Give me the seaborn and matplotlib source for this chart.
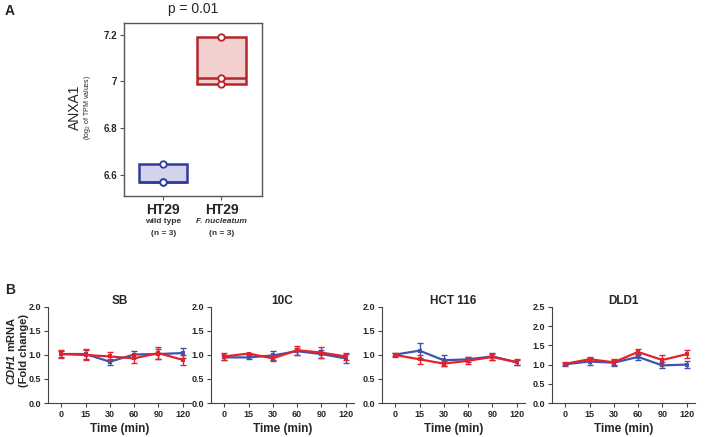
import matplotlib
matplotlib.use("Agg")
import matplotlib.pyplot as plt
import matplotlib.transforms as mtransforms
import numpy as np
import pandas as pd
import seaborn as sns

# ---- Panel A data ----
groups_a = ["HT29 wild type", "HT29 F. nucleatum"]
anxa1_wt = [6.57, 6.57, 6.645]
anxa1_fn = [6.99, 7.015, 7.19]
p_text = "p = 0.01"

# ---- Panel B data ----
time_labels = ["0", "15", "30", "60", "90", "120"]
cell_lines = ["SB", "10C", "HCT 116", "DLD1"]

sb_blue = [1.02, 1.02, 0.86, 1.01, 1.02, 1.04]
sb_blue_err = [0.06, 0.10, 0.06, 0.08, 0.10, 0.10]
sb_red = [1.02, 1.00, 0.97, 0.93, 1.04, 0.90]
sb_red_err = [0.08, 0.10, 0.09, 0.09, 0.13, 0.10]

c10_blue = [0.95, 0.95, 0.99, 1.08, 1.02, 0.93]
c10_blue_err = [0.06, 0.04, 0.09, 0.07, 0.08, 0.10]
c10_red = [0.97, 1.03, 0.93, 1.10, 1.05, 0.97]
c10_red_err = [0.08, 0.02, 0.06, 0.09, 0.12, 0.08]

hct_blue = [1.01, 1.09, 0.89, 0.91, 0.97, 0.85]
hct_blue_err = [0.04, 0.15, 0.12, 0.05, 0.07, 0.05]
hct_red = [1.00, 0.91, 0.82, 0.88, 0.96, 0.85]
hct_red_err = [0.04, 0.09, 0.05, 0.07, 0.07, 0.06]

dld_blue = [1.01, 1.08, 1.05, 1.20, 0.98, 1.00]
dld_blue_err = [0.04, 0.10, 0.08, 0.07, 0.08, 0.10]
dld_red = [1.02, 1.14, 1.06, 1.33, 1.12, 1.27]
dld_red_err = [0.04, 0.05, 0.08, 0.08, 0.12, 0.10]

y_max = [2.0, 2.0, 2.0, 2.5]

BLUE_A, BLUE_A_FILL = "#2f3b9e", "#d3d3ec"
RED_A, RED_A_FILL = "#b3262a", "#f4cfcf"
BLUE_B, RED_B = "#3d55b0", "#e42229"


def draw_panel_a(fig):
    ax = fig.add_axes([0.175, 0.5515, 0.195, 0.396])
    for i, (vals, col, fill) in enumerate(
        [(anxa1_wt, BLUE_A, BLUE_A_FILL), (anxa1_fn, RED_A, RED_A_FILL)]
    ):
        lo, hi, med = min(vals), max(vals), float(np.median(vals))
        ax.bar(i, hi - lo, bottom=lo, width=0.83, color=fill,
               edgecolor=col, linewidth=1.8, zorder=2)
        ax.hlines(med, i - 0.415, i + 0.415, color=col, linewidth=1.8, zorder=3)
        sns.scatterplot(x=[i] * len(vals), y=vals, ax=ax, color="white",
                        edgecolor=col, linewidth=1.3, s=22, zorder=4,
                        legend=False)

    ax.set_xlim(-0.67, 1.7)
    ax.set_ylim(6.51, 7.25)
    ax.set_yticks([6.6, 6.8, 7.0, 7.2])
    ax.set_yticklabels(["6.6", "6.8", "7", "7.2"], fontsize=7, fontweight="bold")
    ax.set_xticks([0, 1])
    ax.set_xticklabels(["HT29", "HT29"], fontsize=10, fontweight="bold")
    ax.tick_params(axis="x", length=3, pad=2, color="#555555")
    ax.tick_params(axis="y", length=3, pad=2, color="#555555")
    for s in ax.spines.values():
        s.set_visible(True)
        s.set_color("#555555")
        s.set_linewidth(1.0)

    trans = mtransforms.blended_transform_factory(ax.transData, ax.transAxes)
    ax.text(0, -0.145, "wild type", transform=trans, ha="center", va="center",
            fontsize=6, fontweight="bold", color="#333333")
    ax.text(1, -0.145, "F. nucleatum", transform=trans, ha="center", va="center",
            fontsize=6, fontweight="bold", fontstyle="italic", color="#333333")
    for i in range(2):
        ax.text(i, -0.215, "(n = 3)", transform=trans, ha="center",
                va="center", fontsize=6, fontweight="bold", color="#333333")

    ax.text(-0.355, 0.51, "ANXA1", transform=ax.transAxes, rotation=90,
            ha="center", va="center", fontsize=10)
    ax.text(-0.265, 0.51, "(log$_2$ of TPM values)", transform=ax.transAxes,
            rotation=90, ha="center", va="center", fontsize=5)
    ax.set_title(p_text, fontsize=10, pad=7)


def draw_panel_b(fig):
    lefts_px = [48, 211, 382, 552]
    width_px = 143
    series = [
        (sb_blue, sb_blue_err, sb_red, sb_red_err),
        (c10_blue, c10_blue_err, c10_red, c10_red_err),
        (hct_blue, hct_blue_err, hct_red, hct_red_err),
        (dld_blue, dld_blue_err, dld_red, dld_red_err),
    ]
    x = np.arange(len(time_labels))
    for k, name in enumerate(cell_lines):
        ax = fig.add_axes([lefts_px[k] / 709, 0.0778, width_px / 709, 0.2197])
        b, be, r, re_ = series[k]
        for vals, errs, col in [(b, be, BLUE_B), (r, re_, RED_B)]:
            df = pd.DataFrame({"t": x, "v": vals})
            ax.errorbar(x, vals, yerr=errs, fmt="none", ecolor=col,
                        elinewidth=1.0, capsize=2.5, capthick=1.0)
            sns.lineplot(data=df, x="t", y="v", ax=ax, color=col,
                         linewidth=1.6, marker="s", markersize=3.5,
                         markeredgewidth=0)
        ax.set_xlim(-0.55, 5.35)
        ax.set_ylim(0, y_max[k])
        ticks = np.arange(0, y_max[k] + 0.01, 0.5)
        ax.set_yticks(ticks)
        ax.set_yticklabels([f"{v:.1f}" for v in ticks],
                           fontsize=6.5, fontweight="bold")
        ax.set_xticks(x)
        ax.set_xticklabels(time_labels, fontsize=6.5, fontweight="bold")
        ax.tick_params(length=3, width=0.8, pad=2, color="#444444")
        sns.despine(ax=ax)
        for s in ["left", "bottom"]:
            ax.spines[s].set_linewidth(0.8)
            ax.spines[s].set_color("#444444")
        ax.set_xlabel("Time (min)", fontsize=8.5, fontweight="bold", labelpad=3)
        ax.set_ylabel("")
        ax.set_title(name, fontsize=8.5, fontweight="bold", pad=1)

    fig.text(11 / 709, 0.191, "CDH1", rotation=90, ha="center", va="top",
             fontsize=8, fontweight="bold", fontstyle="italic")
    fig.text(11 / 709, 0.197, "mRNA", rotation=90, ha="center", va="bottom",
             fontsize=8, fontweight="bold")
    fig.text(24 / 709, 0.197, "(Fold change)", rotation=90, ha="center",
             va="center", fontsize=8, fontweight="bold")


def main():
    sns.set_style("ticks")
    plt.rcParams["font.family"] = ["Liberation Sans", "DejaVu Sans"]
    plt.rcParams["mathtext.fontset"] = "custom"
    plt.rcParams["mathtext.rm"] = "Liberation Sans"

    fig = plt.figure(figsize=(7.09, 4.37), dpi=100)
    draw_panel_a(fig)
    draw_panel_b(fig)

    fig.text(0.007, 0.975, "A", fontsize=10, fontweight="bold", va="center")
    fig.text(0.007, 0.336, "B", fontsize=10, fontweight="bold", va="center")

    fig.savefig("out.png", dpi=100)
    plt.close(fig)


if __name__ == "__main__":
    main()
